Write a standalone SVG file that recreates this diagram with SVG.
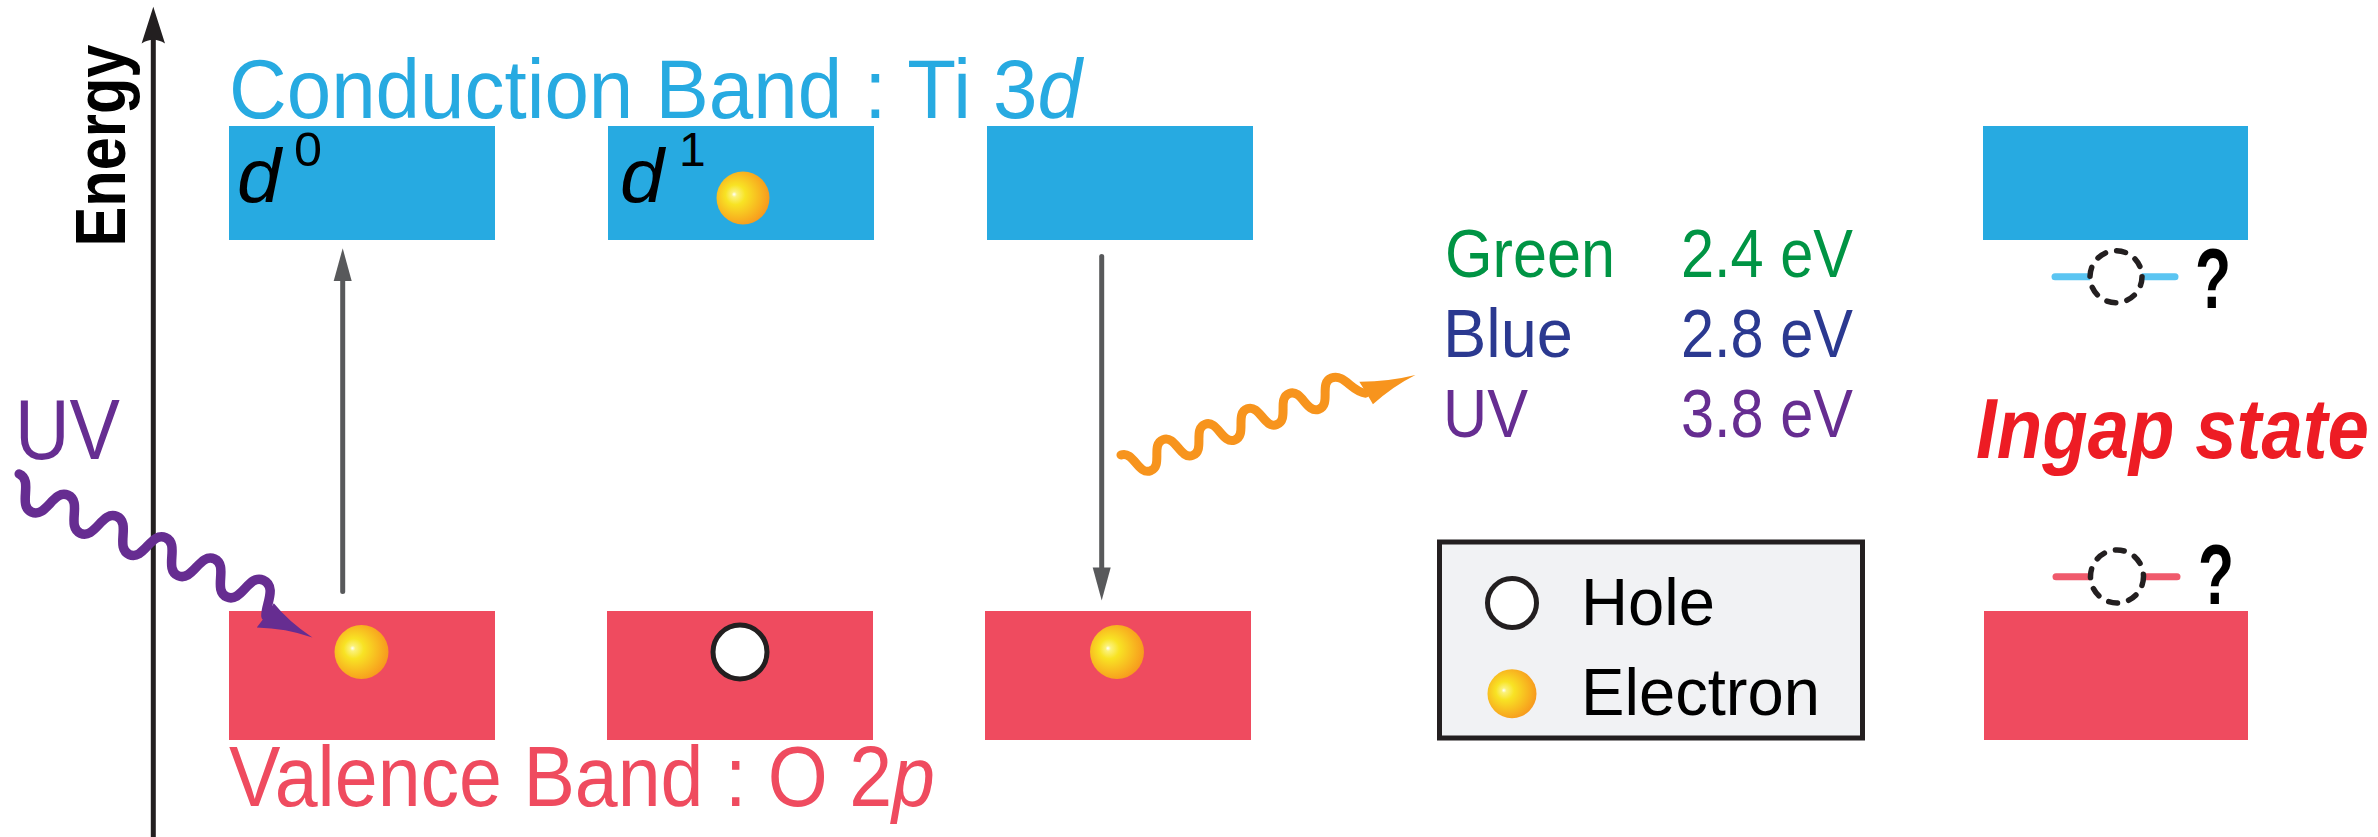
<svg xmlns="http://www.w3.org/2000/svg" width="2378" height="837" viewBox="0 0 2378 837">
<defs>
<radialGradient id="eg" cx="0.42" cy="0.46" r="0.62" fx="0.33" fy="0.43">
<stop offset="0" stop-color="#ffffff"/>
<stop offset="0.08" stop-color="#fbf27a"/>
<stop offset="0.3" stop-color="#f8e324"/>
<stop offset="0.75" stop-color="#f8b01f"/>
<stop offset="1" stop-color="#f7941d"/>
</radialGradient>
</defs>
<style>
text { font-family: "Liberation Sans", Arial, sans-serif; }
.cb { fill:#27aae1; }
.vb { fill:#ef4b5f; }
.el { fill:url(#eg); }
.hole { fill:#ffffff; stroke:#231f20; stroke-width:5; }
.vline { stroke:#58595b; stroke-width:5; stroke-linecap:round; fill:none; }
.ahead { fill:#58595b; }
.dash { fill:#ffffff; stroke:#231f20; stroke-width:5.5; stroke-dasharray:9 11.4; stroke-linecap:round; }
.lvl { stroke-width:7; stroke-linecap:round; fill:none; }
.q { font-weight:bold; font-size:86px; fill:#000; }
.dl { font-size:76px; font-style:italic; fill:#000; }
.sup { font-size:48px; fill:#000; }
</style>

<g id="energy-axis">
<line x1="153.3" y1="837" x2="153.3" y2="36" stroke="#231f20" stroke-width="5"/>
<path d="M153.3,6.7 L165,43.5 Q153.3,36 141.6,43.5 Z" fill="#231f20"/>
<text transform="translate(125,246.5) rotate(-90)" font-size="70" font-weight="bold" fill="#000" textLength="202" lengthAdjust="spacingAndGlyphs">Energy</text>
</g>

<g id="cb-label">
<text x="229" y="118" font-size="83" fill="#27aae1" textLength="853" lengthAdjust="spacingAndGlyphs">Conduction Band : Ti 3<tspan font-style="italic">d</tspan></text>
</g>
<g id="vb-label">
<text x="229" y="806" font-size="85" fill="#ef4b5f" textLength="706" lengthAdjust="spacingAndGlyphs">Valence Band : O 2<tspan font-style="italic">p</tspan></text>
</g>

<g id="col1">
<rect class="cb" x="229" y="126" width="266" height="114"/>
<text class="dl" x="237" y="202" textLength="44" lengthAdjust="spacingAndGlyphs">d</text>
<text class="sup" x="294" y="166" textLength="28" lengthAdjust="spacingAndGlyphs">0</text>
<rect class="vb" x="229" y="611" width="266" height="129"/>
<circle class="el" cx="361.5" cy="652" r="27"/>
</g>

<g id="col2">
<rect class="cb" x="608" y="126" width="266" height="114"/>
<text class="dl" x="620" y="202" textLength="44" lengthAdjust="spacingAndGlyphs">d</text>
<text class="sup" x="679" y="166">1</text>
<circle class="el" cx="743" cy="198" r="26.5"/>
<rect class="vb" x="607" y="611" width="266" height="129"/>
<circle class="hole" cx="740" cy="652" r="27"/>
</g>

<g id="col3">
<rect class="cb" x="987" y="126" width="266" height="114"/>
<rect class="vb" x="985" y="611" width="266" height="129"/>
<circle class="el" cx="1117" cy="652" r="27"/>
</g>

<g id="col4">
<rect class="cb" x="1983" y="126" width="265" height="114"/>
<rect class="vb" x="1984" y="611" width="264" height="129"/>
</g>

<g id="ingap-upper">
<line class="lvl" x1="2055" y1="276.7" x2="2175" y2="276.7" stroke="#5bc5f2"/>
<circle class="dash" cx="2116" cy="276.7" r="26"/>
<text class="q" x="2195" y="308" textLength="36" lengthAdjust="spacingAndGlyphs">?</text>
</g>
<g id="ingap-lower">
<line class="lvl" x1="2056" y1="576.7" x2="2177" y2="576.7" stroke="#f05a6c"/>
<circle class="dash" cx="2117" cy="576.5" r="26.5"/>
<text class="q" x="2198" y="604" textLength="36" lengthAdjust="spacingAndGlyphs">?</text>
</g>
<g id="ingap-label">
<text x="1976" y="458.3" font-size="86" font-weight="bold" font-style="italic" fill="#ed1c24" textLength="393" lengthAdjust="spacingAndGlyphs">Ingap state</text>
</g>

<g id="uv-label">
<text x="15" y="459" font-size="85" fill="#662d91" textLength="105" lengthAdjust="spacingAndGlyphs">UV</text>
</g>

<g id="energy-table">
<text x="1445" y="277" font-size="68" fill="#009444" textLength="170" lengthAdjust="spacingAndGlyphs">Green</text>
<text x="1681" y="277" font-size="68" fill="#009444" textLength="172" lengthAdjust="spacingAndGlyphs">2.4 eV</text>
<text x="1443" y="356.7" font-size="68" fill="#2b3990" textLength="130" lengthAdjust="spacingAndGlyphs">Blue</text>
<text x="1681" y="356.7" font-size="68" fill="#2b3990" textLength="172" lengthAdjust="spacingAndGlyphs">2.8 eV</text>
<text x="1443" y="436.7" font-size="68" fill="#662d91" textLength="85" lengthAdjust="spacingAndGlyphs">UV</text>
<text x="1681" y="436.7" font-size="68" fill="#662d91" textLength="172" lengthAdjust="spacingAndGlyphs">3.8 eV</text>
</g>

<g id="legend">
<rect x="1439.5" y="542" width="423" height="196" fill="#f1f2f4" stroke="#231f20" stroke-width="5"/>
<circle class="hole" cx="1512" cy="603" r="24.5"/>
<text x="1581" y="625" font-size="67.5" fill="#000" textLength="134" lengthAdjust="spacingAndGlyphs">Hole</text>
<circle class="el" cx="1512" cy="693.7" r="24.5"/>
<text x="1581" y="715" font-size="67.5" fill="#000" textLength="239" lengthAdjust="spacingAndGlyphs">Electron</text>
</g>

<g id="connectors">
<g id="excite-arrow">
<line class="vline" x1="342.7" y1="591.5" x2="342.7" y2="276"/>
<path class="ahead" d="M342.7,248.3 L351.7,281 L333.7,281 Z"/>
</g>
<g id="relax-arrow">
<line class="vline" x1="1101.7" y1="256.5" x2="1101.7" y2="571"/>
<path class="ahead" d="M1101.7,600.5 L1110.7,567.5 L1092.7,567.5 Z"/>
</g>
<g id="uv-photon" transform="translate(19.25,474) rotate(23.5)">
<path d="M0,0 C16,0 10.6,30 26.6,30 S37.2,0 53.2,0 S63.8,30 79.8,30 S90.4,0 106.4,0 S117,30 133,30 S143.6,0 159.6,0 S170.2,30 186.2,30 S196.8,0 212.8,0 S223.4,30 239.4,30 S250,0 266,0 C282,0 278,24 283,32" fill="none" stroke="#662d91" stroke-width="9.5" stroke-linecap="round"/>
<path d="M285,17 Q306,28 334,33 Q306,35 279,46 Q283,32 285,17 Z" fill="#662d91"/>
</g>
<g id="emission-photon" transform="translate(1121,455) rotate(-20.1)">
<path d="M0,0 C13.5,0 8.9,25 22.4,25 S31.3,0 44.8,0 S53.7,25 67.2,25 S76.1,0 89.6,0 S98.5,25 112,25 S120.9,0 134.4,0 S143.3,25 156.8,25 S165.7,0 179.2,0 S188.1,25 201.6,25 S210.5,0 224,0 C238,0 238,20 251,26" fill="none" stroke="#f7941d" stroke-width="9" stroke-linecap="round"/>
<path d="M249,13 Q276,23 304,26 Q278,29 254,39 Q252,26 249,13 Z" fill="#f7941d"/>
</g>
</g>
</svg>
